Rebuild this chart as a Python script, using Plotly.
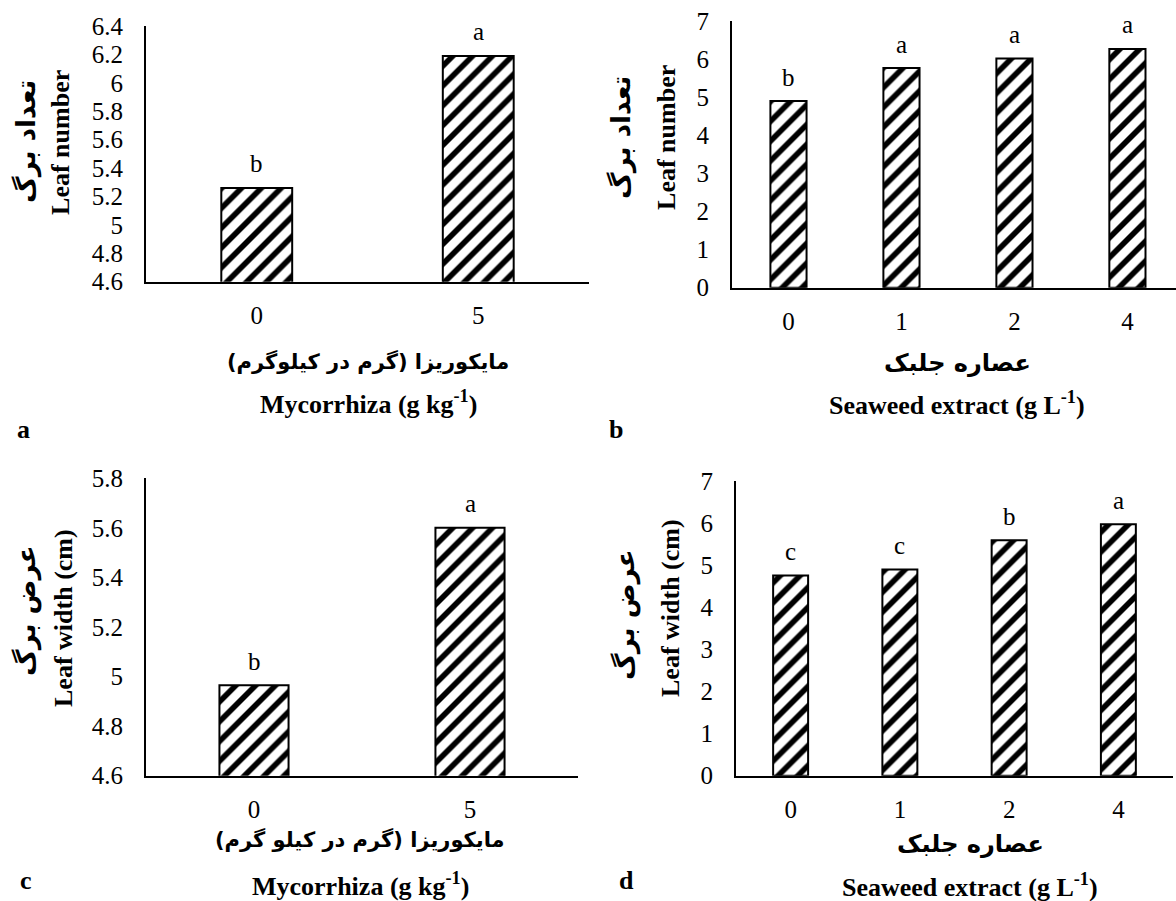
import plotly.graph_objects as go

W, H = 1176, 901

# ---------------- data ----------------
myco_cats = ["0", "5"]
leaf_number_myco = [5.26, 6.19]
leaf_number_myco_letters = ["b", "a"]

sea_cats = ["0", "1", "2", "4"]
leaf_number_sea = [4.90, 5.77, 6.02, 6.27]
leaf_number_sea_letters = ["b", "a", "a", "a"]

leaf_width_myco = [4.965, 5.60]
leaf_width_myco_letters = ["b", "a"]

leaf_width_sea = [4.76, 4.90, 5.60, 5.98]
leaf_width_sea_letters = ["c", "c", "b", "a"]

ticks_a = [4.6, 4.8, 5.0, 5.2, 5.4, 5.6, 5.8, 6.0, 6.2, 6.4]
ticktext_a = ["4.6", "4.8", "5", "5.2", "5.4", "5.6", "5.8", "6", "6.2", "6.4"]
ticks_c = [4.6, 4.8, 5.0, 5.2, 5.4, 5.6, 5.8]
ticktext_c = ["4.6", "4.8", "5", "5.2", "5.4", "5.6", "5.8"]
ticks_bd = [0, 1, 2, 3, 4, 5, 6, 7]
ticktext_bd = ["0", "1", "2", "3", "4", "5", "6", "7"]

RLM = "\u200f"
t_ylab_num_fa = "تعداد برگ"
t_ylab_num_en = "Leaf number"
t_ylab_wid_fa = "عرض برگ"
t_ylab_wid_en = "Leaf width (cm)"
t_x_myco_fa_a = "مایکوریزا (گرم در کیلوگرم)"
t_x_myco_fa_c = "مایکوریزا (گرم در کیلو گرم)"
t_x_myco_en = "Mycorrhiza (g kg<sup>-1</sup>)"
t_x_sea_fa = "عصاره جلبک"
t_x_sea_en = "Seaweed extract (g L<sup>-1</sup>)"

SERIF = "Liberation Serif, Times New Roman, serif"
FA = "DejaVu Sans, sans-serif"
TICK = 25
TITLE = 26


def px(x):
    return x / W


def Y(t):
    # target pixel row -> layout pixel row (compensates observed vertical fit)
    return (t - 13.8) / 0.972


def py(y):
    return 1 - Y(y) / H


fig = go.Figure()

bar_style = dict(
    marker=dict(
        color="white",
        line=dict(color="black", width=2),
        pattern=dict(shape="/", size=14, solidity=0.4, fgcolor="black",
                     bgcolor="white", fgopacity=1),
    ),
    width=0.32,
    showlegend=False,
    hoverinfo="skip",
)

panels = [
    ("x", "y", myco_cats, leaf_number_myco, leaf_number_myco_letters),
    ("x2", "y2", sea_cats, leaf_number_sea, leaf_number_sea_letters),
    ("x3", "y3", myco_cats, leaf_width_myco, leaf_width_myco_letters),
    ("x4", "y4", sea_cats, leaf_width_sea, leaf_width_sea_letters),
]

annotations = []
for xa, ya, cats, vals, letters in panels:
    fig.add_trace(go.Bar(x=cats, y=vals, xaxis=xa, yaxis=ya, **bar_style))
    for i, (v, l) in enumerate(zip(vals, letters)):
        annotations.append(dict(
            x=i, y=v, xref=xa, yref=ya, text=l, showarrow=False,
            yshift=24, xanchor="center", yanchor="middle",
            font=dict(family=SERIF, size=TICK, color="black"),
        ))

common_x = dict(
    type="category", showline=True, linecolor="black", linewidth=2,
    showgrid=False, zeroline=False, ticks="outside", ticklen=10,
    tickcolor="rgba(0,0,0,0)", tickfont=dict(family=SERIF, size=TICK, color="black"),
)
common_y = dict(
    showline=True, linecolor="black", linewidth=2, showgrid=False,
    zeroline=False, ticks="outside", ticklen=16, tickcolor="rgba(0,0,0,0)",
    tickfont=dict(family=SERIF, size=TICK, color="black"),
)

fig.update_layout(
    width=W, height=H, autosize=False,
    margin=dict(l=0, r=0, t=0, b=0),
    paper_bgcolor="white", plot_bgcolor="white",
    xaxis=dict(domain=[px(146), px(589)], anchor="y", range=[-0.5, 1.5], **common_x),
    yaxis=dict(domain=[py(283), py(27)], anchor="x", range=[4.6, 6.4],
               tickvals=ticks_a, ticktext=ticktext_a, **common_y),
    xaxis2=dict(domain=[px(732), 1.0], anchor="y2", range=[-0.5, 3.43], **common_x),
    yaxis2=dict(domain=[py(289), py(22)], anchor="x2", range=[0, 7],
                tickvals=ticks_bd, ticktext=ticktext_bd, **common_y),
    xaxis3=dict(domain=[px(146), px(578)], anchor="y3", range=[-0.5, 1.5], **common_x),
    yaxis3=dict(domain=[py(778), py(480)], anchor="x3", range=[4.6, 5.8],
                tickvals=ticks_c, ticktext=ticktext_c, **common_y),
    xaxis4=dict(domain=[px(736), px(1173)], anchor="y4", range=[-0.5, 3.5], **common_x),
    yaxis4=dict(domain=[py(778), py(483)], anchor="x4", range=[0, 7],
                tickvals=ticks_bd, ticktext=ticktext_bd, **common_y),
)


def text_ann(x, y, text, family, size, angle=0):
    annotations.append(dict(
        x=px(x), y=py(y), xref="paper", yref="paper", text=text,
        showarrow=False, xanchor="center", yanchor="middle", textangle=angle,
        font=dict(family=family, size=size, color="black"),
    ))


FA_Y = 26
FA_MYCO = 21
FA_SEA = 24
# Panel a
text_ann(27, 143, "<b>" + RLM + t_ylab_num_fa + RLM + "</b>", FA, FA_Y, -90)
text_ann(61, 144, "<b>" + t_ylab_num_en + "</b>", SERIF, TITLE, -90)
text_ann(368, 363, "<b>" + RLM + t_x_myco_fa_a + RLM + "</b>", FA, FA_MYCO)
text_ann(368, 404, "<b>" + t_x_myco_en + "</b>", SERIF, TITLE)
text_ann(23, 431, "<b>a</b>", SERIF, TITLE)

# Panel b
text_ann(622, 139, "<b>" + RLM + t_ylab_num_fa + RLM + "</b>", FA, FA_Y, -90)
text_ann(667, 139, "<b>" + t_ylab_num_en + "</b>", SERIF, TITLE, -90)
text_ann(957, 365, "<b>" + RLM + t_x_sea_fa + RLM + "</b>", FA, FA_SEA)
text_ann(957, 405, "<b>" + t_x_sea_en + "</b>", SERIF, TITLE)
text_ann(616, 431, "<b>b</b>", SERIF, TITLE)

# Panel c
text_ann(27, 613, "<b>" + RLM + t_ylab_wid_fa + RLM + "</b>", FA, FA_Y, -90)
text_ann(64, 620, "<b>" + t_ylab_wid_en + "</b>", SERIF, TITLE, -90)
text_ann(360, 842, "<b>" + RLM + t_x_myco_fa_c + RLM + "</b>", FA, FA_MYCO)
text_ann(360, 887, "<b>" + t_x_myco_en + "</b>", SERIF, TITLE)
text_ann(26, 883, "<b>c</b>", SERIF, TITLE)

# Panel d
text_ann(626, 617, "<b>" + RLM + t_ylab_wid_fa + RLM + "</b>", FA, FA_Y, -90)
text_ann(671, 610, "<b>" + t_ylab_wid_en + "</b>", SERIF, TITLE, -90)
text_ann(970, 846, "<b>" + RLM + t_x_sea_fa + RLM + "</b>", FA, FA_SEA)
text_ann(970, 888, "<b>" + t_x_sea_en + "</b>", SERIF, TITLE)
text_ann(626, 883, "<b>d</b>", SERIF, TITLE)

fig.update_layout(annotations=annotations)

POST = (
    "var gd=document.getElementById('{plot_id}');"
    "document.documentElement.style.margin='0';"
    "document.documentElement.style.overflow='hidden';"
    "document.body.style.margin='0';"
    "document.body.style.overflow='hidden';"
    "gd.style.position='absolute';gd.style.left='0px';gd.style.top='0px';"
)

fig.write_html(
    "out.html",
    config={"responsive": False, "displayModeBar": False},
    post_script=POST,
)
